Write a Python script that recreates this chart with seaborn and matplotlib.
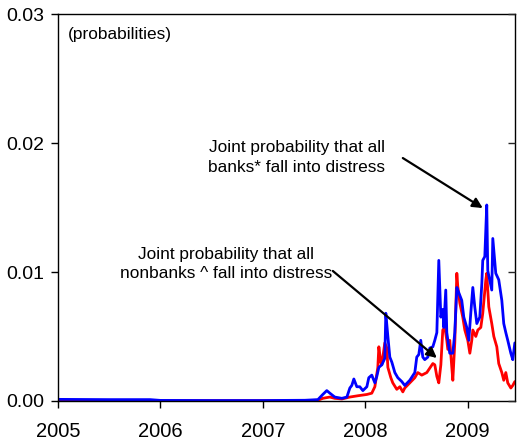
import matplotlib
matplotlib.use("Agg")
import matplotlib.pyplot as plt
import seaborn as sns
import pandas as pd

# Joint probability that all banks fall into distress (blue)
banks_t = [2005.0, 2005.5, 2005.9, 2006.0, 2006.5, 2007.0, 2007.41, 2007.537, 2007.585,
           2007.624, 2007.654, 2007.702, 2007.771, 2007.82, 2007.849, 2007.868, 2007.888,
           2007.917, 2007.946, 2007.976, 2008.015, 2008.034, 2008.063, 2008.093, 2008.112,
           2008.132, 2008.161, 2008.19, 2008.2, 2008.22, 2008.239, 2008.259, 2008.288,
           2008.317, 2008.356, 2008.385, 2008.434, 2008.483, 2008.502, 2008.522, 2008.541,
           2008.561, 2008.58, 2008.61, 2008.629, 2008.659, 2008.678, 2008.698, 2008.717,
           2008.737, 2008.756, 2008.766, 2008.785, 2008.795, 2008.824, 2008.854, 2008.873,
           2008.893, 2008.912, 2008.941, 2008.961, 2008.99, 2009.01, 2009.029, 2009.049,
           2009.068, 2009.088, 2009.117, 2009.137, 2009.146, 2009.166, 2009.185, 2009.195,
           2009.234, 2009.244, 2009.273, 2009.302, 2009.332, 2009.351, 2009.371, 2009.39,
           2009.42, 2009.439, 2009.459]
banks_v = [0.00012, 0.0001, 0.0001, 0.00004, 0.00003, 0.00003, 0.00005, 0.0001, 0.0005,
           0.0008, 0.0006, 0.0003, 0.0002, 0.0003, 0.0010, 0.0012, 0.0017,
           0.0011, 0.0011, 0.0008, 0.0011, 0.0018, 0.0020, 0.0014, 0.0019,
           0.0026, 0.0028, 0.0033, 0.0068, 0.0050, 0.0034, 0.0030, 0.0022,
           0.0018, 0.0015, 0.0012, 0.0016, 0.0022, 0.0034, 0.0036, 0.0047,
           0.0034, 0.0032, 0.0034, 0.0041, 0.0042, 0.0047, 0.0053, 0.0109,
           0.0065, 0.0071, 0.0057, 0.0086, 0.0053, 0.0037, 0.0037, 0.0053,
           0.0088, 0.0084, 0.0078, 0.0065, 0.0057, 0.0047, 0.0068, 0.0088,
           0.0073, 0.0060, 0.0065, 0.0091, 0.0109, 0.0112, 0.0152, 0.0101,
           0.0086, 0.0126, 0.0099, 0.0094, 0.0078, 0.0060, 0.0053, 0.0047,
           0.0037, 0.0032, 0.0045]

# Joint probability that all nonbanks fall into distress (red)
nonbanks_t = [2005.0, 2005.5, 2006.0, 2006.5, 2007.0, 2007.41, 2007.537, 2007.585,
              2007.654, 2007.702, 2007.771, 2007.849, 2007.927, 2008.015, 2008.063,
              2008.093, 2008.122, 2008.132, 2008.151, 2008.161, 2008.19, 2008.21,
              2008.22, 2008.249, 2008.268, 2008.307, 2008.337, 2008.366, 2008.385,
              2008.434, 2008.483, 2008.512, 2008.551, 2008.6, 2008.659, 2008.678,
              2008.698, 2008.717, 2008.737, 2008.756, 2008.776, 2008.795, 2008.805,
              2008.824, 2008.844, 2008.854, 2008.873, 2008.893, 2008.902, 2008.922,
              2008.951, 2008.971, 2009.0, 2009.02, 2009.039, 2009.049, 2009.078,
              2009.098, 2009.127, 2009.146, 2009.176, 2009.185, 2009.205, 2009.234,
              2009.254, 2009.283, 2009.302, 2009.332, 2009.351, 2009.371, 2009.39,
              2009.42, 2009.439, 2009.459]
nonbanks_v = [0.00003, 0.00003, 0.00002, 0.00002, 0.00002, 0.00003, 0.00005, 0.0002,
              0.0003, 0.0002, 0.00015, 0.0003, 0.0004, 0.0005, 0.0006,
              0.0011, 0.0026, 0.0042, 0.0030, 0.0028, 0.0045, 0.0041,
              0.0026, 0.0018, 0.0014, 0.0009, 0.0011, 0.0007, 0.0010,
              0.0014, 0.0018, 0.0022, 0.0020, 0.0022, 0.0029, 0.0028,
              0.0019, 0.0014, 0.0028, 0.0055, 0.0057, 0.0047, 0.0040,
              0.0047, 0.0026, 0.0016, 0.0045, 0.0099, 0.0089, 0.0076,
              0.0065, 0.0055, 0.0047, 0.0037, 0.0047, 0.0055, 0.0050,
              0.0055, 0.0057, 0.0068, 0.0094, 0.0099, 0.0073, 0.0060,
              0.0050, 0.0042, 0.0029, 0.0022, 0.0016, 0.0022, 0.0014,
              0.0010, 0.0012, 0.0015]

year_ticks = [2005, 2006, 2007, 2008, 2009]
y_ticks = [0.00, 0.01, 0.02, 0.03]

label_banks = "Joint probability that all\nbanks* fall into distress"
label_nonbanks = "Joint probability that all\nnonbanks ^ fall into distress"

df = pd.concat([
    pd.DataFrame({"t": nonbanks_t, "v": nonbanks_v, "s": "nonbanks"}),
    pd.DataFrame({"t": banks_t, "v": banks_v, "s": "banks"}),
])

sns.set_style("white")
plt.rcParams["font.family"] = ["Liberation Sans", "DejaVu Sans"]
plt.rcParams["text.color"] = "black"

fig = plt.figure(figsize=(5.17, 4.43), dpi=100)
ax = fig.add_axes([0.112, 0.095, 0.884, 0.873])

sns.lineplot(data=df, x="t", y="v", hue="s", palette={"nonbanks": "#FF0000", "banks": "#0000FF"},
             linewidth=2.0, ax=ax, legend=False, sort=False, estimator=None)

ax.set_xlim(2005, 2009.46)
ax.set_ylim(0, 0.03)
ax.set_xticks(year_ticks)
ax.set_xticklabels([str(y) for y in year_ticks], fontsize=14.5)
ax.set_yticks(y_ticks)
ax.set_yticklabels([f"{v:.2f}" for v in y_ticks], fontsize=14)
ax.set_xlabel("")
ax.set_ylabel("")
for sp in ax.spines.values():
    sp.set_visible(True)
    sp.set_color("black")
    sp.set_linewidth(1.0)
ax.tick_params(axis="both", direction="out", length=5, width=1, color="black",
               left=True, bottom=True, labelcolor="black", pad=5)
ax.tick_params(axis="x", pad=10)

ax2 = ax.twinx()
ax2.set_ylim(0, 0.03)
ax2.set_yticks(y_ticks)
ax2.tick_params(axis="y", direction="in", length=5, width=1, right=True, labelright=False)
for sp in ax2.spines.values():
    sp.set_visible(False)

ax.text(2005.1, 0.02845, "(probabilities)", fontsize=12.4, va="center", ha="left", color="black")

ax.text(2007.33, 0.01888, label_banks, fontsize=12.4, ha="center", va="center",
        multialignment="center", linespacing=1.4, color="black")
ax.text(2006.64, 0.01062, label_nonbanks, fontsize=12.4, ha="center", va="center",
        multialignment="center", linespacing=1.3, color="black")

arrow_kw = dict(arrowstyle="-|>", color="black", lw=1.6, mutation_scale=15,
                shrinkA=0, shrinkB=0)
ax.annotate("", xy=(2009.146, 0.01496), xytext=(2008.366, 0.01884),
            arrowprops=arrow_kw, annotation_clip=False)
ax.annotate("", xy=(2008.698, 0.00333), xytext=(2007.683, 0.01008),
            arrowprops=arrow_kw, annotation_clip=False)

fig.savefig("out.png", dpi=100)
